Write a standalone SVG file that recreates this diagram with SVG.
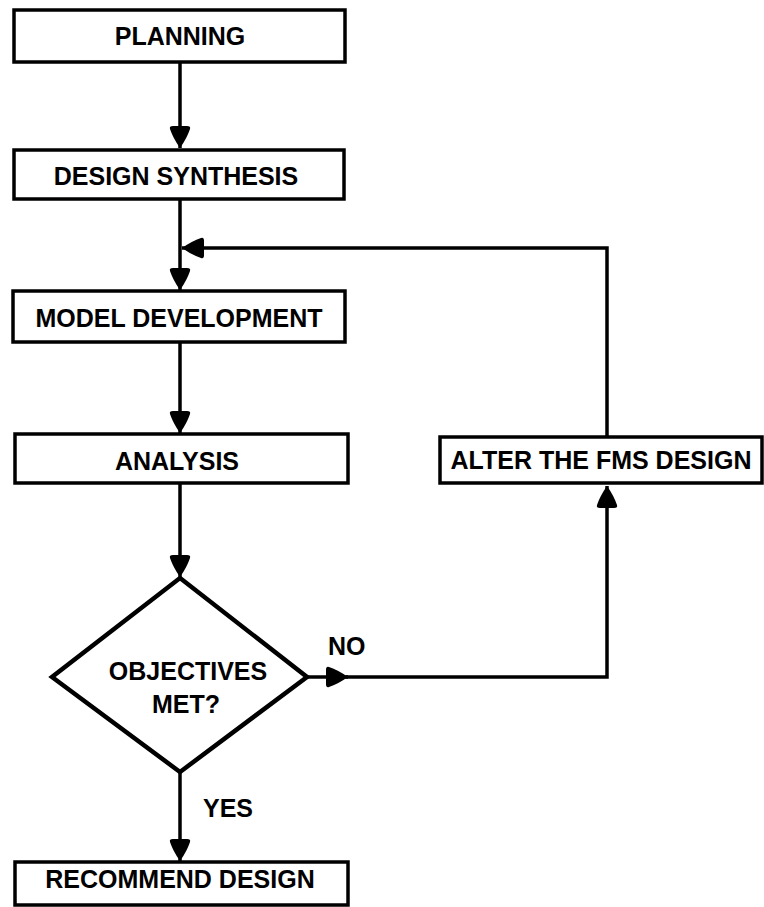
<svg xmlns="http://www.w3.org/2000/svg" width="764" height="907" viewBox="0 0 764 907">
  <style>
    .box { fill: #fff; stroke: #000; stroke-width: 3.5; }
    .dia { fill: #fff; stroke: #000; stroke-width: 4.5; stroke-linejoin: miter; }
    .lbl { font-family: "Liberation Sans", Arial, Helvetica, sans-serif; font-weight: bold; font-size: 25px; fill: #000; }
    .mid { text-anchor: middle; }
    .wire { fill: none; stroke: #000; stroke-width: 3.5; }
  </style>
  <defs>
    <marker id="head" markerUnits="userSpaceOnUse" viewBox="0 0 22 22" refX="22" refY="11" markerWidth="22" markerHeight="22" orient="auto">
      <path d="M22,11 Q12,4 3,1 Q0,0 0,4 L0,18 Q0,22 3,21 Q12,18 22,11 Z" fill="#000"/>
    </marker>
  </defs>

  <rect width="764" height="907" fill="#fff"/>

  <!-- connectors -->
  <g id="connectors">
    <path class="wire" d="M180,62 V148" marker-end="url(#head)"/>
    <path class="wire" d="M180,199 V290" marker-end="url(#head)"/>
    <path class="wire" d="M180,342 V433" marker-end="url(#head)"/>
    <path class="wire" d="M180,483 V577" marker-end="url(#head)"/>
    <path class="wire" d="M180,772 V861" marker-end="url(#head)"/>
    <path class="wire" d="M307,677 H348" marker-end="url(#head)"/>
    <path class="wire" d="M346,677 H607 V486" marker-end="url(#head)"/>
    <path class="wire" d="M607,437 V248 H182" marker-end="url(#head)"/>
  </g>

  <!-- process steps -->
  <g id="planning">
    <rect class="box" x="14" y="10" width="331" height="52"/>
    <text class="lbl mid" x="180" y="45">PLANNING</text>
  </g>
  <g id="design-synthesis">
    <rect class="box" x="14" y="150" width="330" height="49"/>
    <text class="lbl mid" x="176" y="185">DESIGN SYNTHESIS</text>
  </g>
  <g id="model-development">
    <rect class="box" x="13" y="291" width="332" height="51"/>
    <text class="lbl mid" x="179" y="327">MODEL DEVELOPMENT</text>
  </g>
  <g id="analysis">
    <rect class="box" x="15" y="434" width="333" height="49"/>
    <text class="lbl mid" x="177" y="470">ANALYSIS</text>
  </g>
  <g id="objectives-met">
    <polygon class="dia" points="180,578 307,677 180,772 52,677"/>
    <text class="lbl mid" x="188" y="680">OBJECTIVES</text>
    <text class="lbl mid" x="186" y="713">MET?</text>
  </g>
  <g id="alter-design">
    <rect class="box" x="440" y="437" width="322" height="46"/>
    <text class="lbl mid" x="601" y="469">ALTER THE FMS DESIGN</text>
  </g>
  <g id="recommend-design">
    <rect class="box" x="15" y="862" width="333" height="43"/>
    <text class="lbl mid" x="180" y="888">RECOMMEND DESIGN</text>
  </g>

  <!-- branch labels -->
  <text class="lbl" x="328" y="655">NO</text>
  <text class="lbl" x="203" y="817">YES</text>
</svg>
